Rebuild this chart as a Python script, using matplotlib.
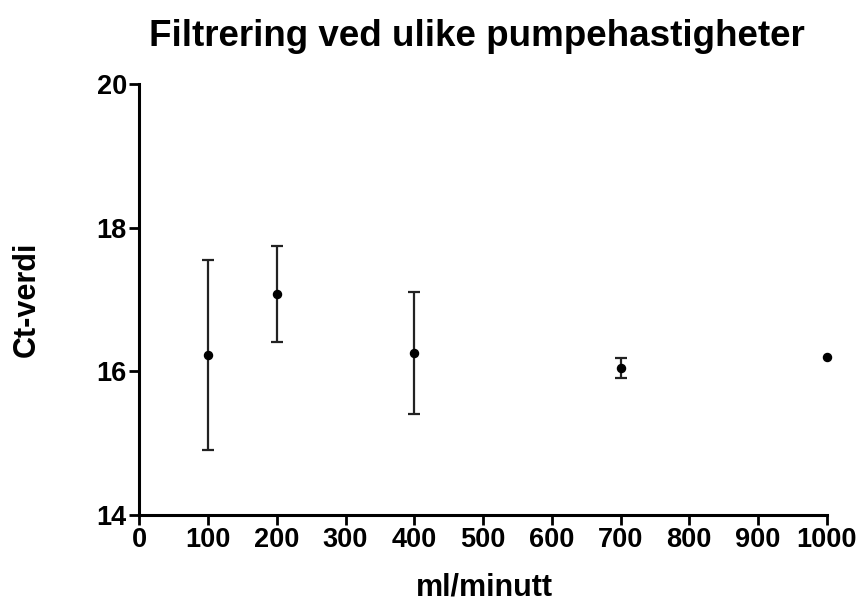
import matplotlib
matplotlib.use("Agg")
import matplotlib.pyplot as plt

flow = [100, 200, 400, 700, 1000]
ct_mean = [16.23, 17.08, 16.26, 16.05, 16.20]
ct_err = [1.32, 0.67, 0.85, 0.14, 0.0]
xticks = [0, 100, 200, 300, 400, 500, 600, 700, 800, 900, 1000]
yticks = [14, 16, 18, 20]

plt.rcParams['font.family'] = ['Liberation Sans', 'DejaVu Sans']
plt.rcParams['font.weight'] = 'bold'

fig = plt.figure(figsize=(8.61, 6.04), dpi=100)
ax = fig.add_axes([0.1618, 0.1474, 0.7984, 0.7136])

eb_x = [x for x, e in zip(flow, ct_err) if e > 0]
eb_y = [y for y, e in zip(ct_mean, ct_err) if e > 0]
eb_e = [e for e in ct_err if e > 0]
ax.errorbar(eb_x, eb_y, yerr=eb_e, fmt='none', ecolor='#222222',
            elinewidth=1.6, capsize=4, capthick=1.6, clip_on=False, zorder=4)
ax.plot(flow, ct_mean, 'o', color='black', ms=5.8, clip_on=False, zorder=5)

ax.set_xlim(0, 1000)
ax.set_ylim(14, 20)
ax.set_xticks(xticks)
ax.set_yticks(yticks)
ax.tick_params(axis='both', direction='out', length=7, width=2, labelsize=19.5, pad=2)
for s in ['top', 'right']:
    ax.spines[s].set_visible(False)
for s in ['left', 'bottom']:
    ax.spines[s].set_linewidth(2.2)
for lab in ax.get_xticklabels() + ax.get_yticklabels():
    lab.set_fontweight('bold')

fig.text(484 / 861, 1 - 588 / 604, 'ml/minutt', ha='center', va='center',
         fontsize=22, fontweight='bold')
fig.text(27 / 861, 1 - 299 / 604, 'Ct-verdi', ha='center', va='center', rotation=90,
         fontsize=22, fontweight='bold')
fig.text(477 / 861, 1 - 36 / 604, 'Filtrering ved ulike pumpehastigheter', ha='center', va='center',
         fontsize=26.5, fontweight='bold')

fig.savefig('out.png', dpi=100)
